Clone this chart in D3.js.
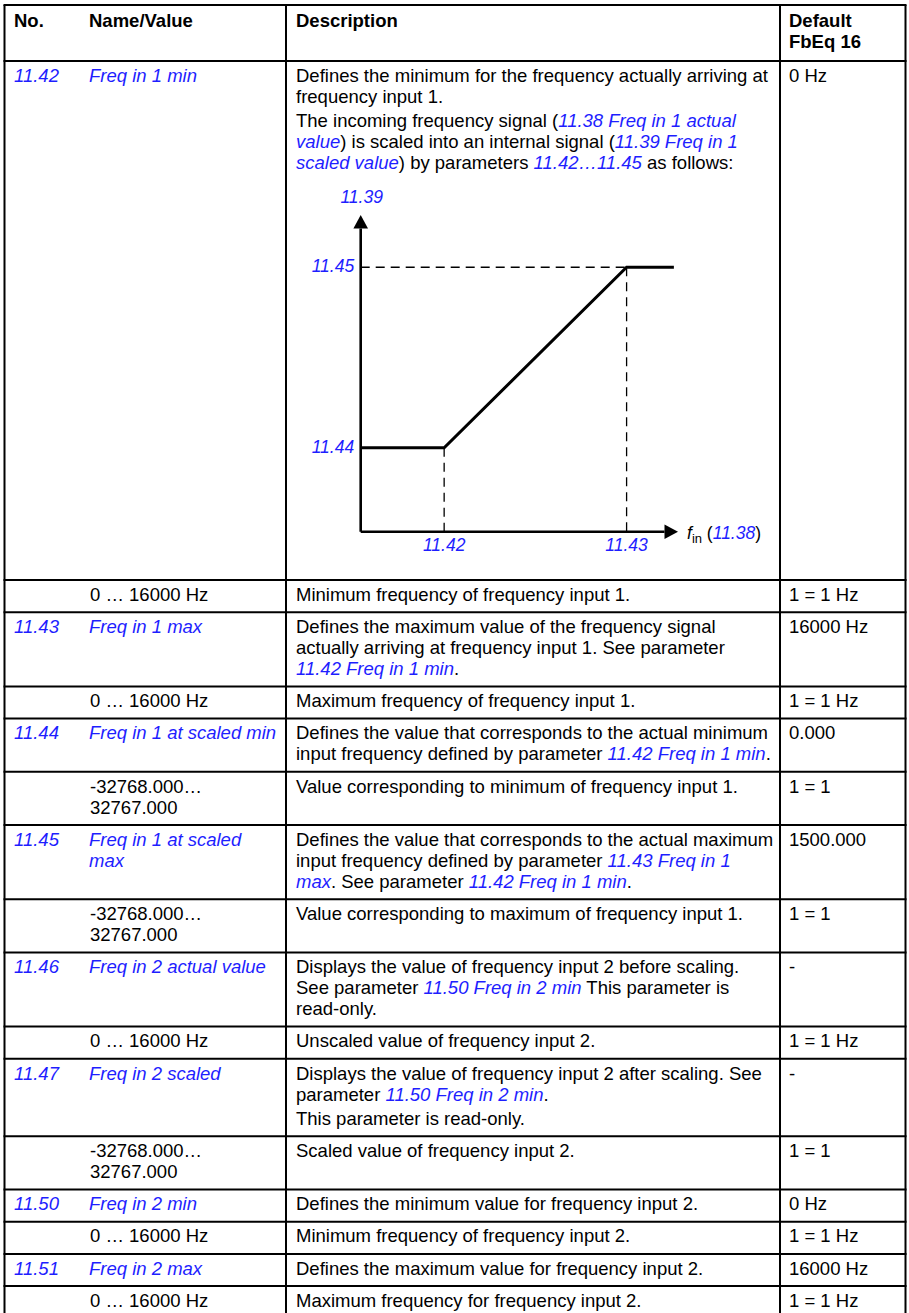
<!DOCTYPE html>
<html>
<head>
<meta charset="utf-8">
<script src="https://cdn.jsdelivr.net/npm/d3@7"></script>
<style>
  html, body { margin: 0; padding: 0; background: #fff; }
  svg text { white-space: pre; }
</style>
</head>
<body>
<div id="chart"></div>
<script>
// ---------------- data ----------------
const headerCols = ["No.", "Name/Value", "Description"];
const headerDefault = ["Default", "FbEq 16"];

const rowNos = ["11.42", "", "11.43", "", "11.44", "", "11.45", "", "11.46", "", "11.47", "", "11.50", "", "11.51", ""];
const rowNames = [
  ["Freq in 1 min"],
  ["0 … 16000 Hz"],
  ["Freq in 1 max"],
  ["0 … 16000 Hz"],
  ["Freq in 1 at scaled min"],
  ["-32768.000…", "32767.000"],
  ["Freq in 1 at scaled", "max"],
  ["-32768.000…", "32767.000"],
  ["Freq in 2 actual value"],
  ["0 … 16000 Hz"],
  ["Freq in 2 scaled"],
  ["-32768.000…", "32767.000"],
  ["Freq in 2 min"],
  ["0 … 16000 Hz"],
  ["Freq in 2 max"],
  ["0 … 16000 Hz"]
];
// {...} = blue italic reference, leading ^ = new paragraph
const rowDescs = [
  ["Defines the minimum for the frequency actually arriving at",
   "frequency input 1.",
   "^The incoming frequency signal ({11.38 Freq in 1 actual}",
   "{value}) is scaled into an internal signal ({11.39 Freq in 1}",
   "{scaled value}) by parameters {11.42…11.45} as follows:"],
  ["Minimum frequency of frequency input 1."],
  ["Defines the maximum value of the frequency signal",
   "actually arriving at frequency input 1. See parameter",
   "{11.42 Freq in 1 min}."],
  ["Maximum frequency of frequency input 1."],
  ["Defines the value that corresponds to the actual minimum",
   "input frequency defined by parameter {11.42 Freq in 1 min}."],
  ["Value corresponding to minimum of frequency input 1."],
  ["Defines the value that corresponds to the actual maximum",
   "input frequency defined by parameter {11.43 Freq in 1}",
   "{max}. See parameter {11.42 Freq in 1 min}."],
  ["Value corresponding to maximum of frequency input 1."],
  ["Displays the value of frequency input 2 before scaling.",
   "See parameter {11.50 Freq in 2 min} This parameter is",
   "read-only."],
  ["Unscaled value of frequency input 2."],
  ["Displays the value of frequency input 2 after scaling. See",
   "parameter {11.50 Freq in 2 min}.",
   "^This parameter is read-only."],
  ["Scaled value of frequency input 2."],
  ["Defines the minimum value for frequency input 2."],
  ["Minimum frequency of frequency input 2."],
  ["Defines the maximum value for frequency input 2."],
  ["Maximum frequency for frequency input 2."]
];
const rowDefaults = ["0 Hz", "1 = 1 Hz", "16000 Hz", "1 = 1 Hz", "0.000", "1 = 1", "1500.000", "1 = 1",
                     "-", "1 = 1 Hz", "-", "1 = 1", "0 Hz", "1 = 1 Hz", "16000 Hz", "1 = 1 Hz"];

// diagram (relative units 0..100 on both axes)
const curveIn  = [0, 26.3, 83.8, 98.7];
const curveOut = [26.5, 26.5, 83.5, 83.5];
const xTickValues = [26.3, 83.8];
const xTickLabels = ["11.42", "11.43"];
const yTickValues = [26.5, 83.5];
const yTickLabels = ["11.44", "11.45"];
const yAxisTitle = "11.39";
const xAxisRef = "11.38";

// ---------------- layout ----------------
const W = 909, H = 1313;
const BLUE = "#1e1eff";
const FONT = "'Liberation Sans', Arial, Helvetica, sans-serif";
const FS = 18.5;
const xL = 4.5, xNameDesc = 286, xDescDef = 780, xR = 905.5;
const tableTop = 5, headerBottom = 61;
const xNo = 14, xName = 89, xVal = 90, xDesc = 296, xDef = 789;
const firstBase = 20.7, pitch = 21, paraGap = 3.3, bottomPad = 11.5;
const diagramRowH = 519;

const svg = d3.select("#chart").append("svg")
  .attr("width", W).attr("height", H)
  .attr("viewBox", `0 0 ${W} ${H}`)
  .style("font-family", FONT);

svg.append("rect").attr("width", W).attr("height", H).attr("fill", "#fff");

function richLine(g, x, y, str, opts = {}) {
  const t = g.append("text")
    .attr("x", x).attr("y", y)
    .attr("font-size", opts.size || FS)
    .attr("fill", "#000");
  if (opts.bold) t.attr("font-weight", "bold");
  if (opts.allBlue) {
    t.append("tspan").attr("fill", BLUE).attr("font-style", "italic").text(str);
    return t;
  }
  str.split(/(\{[^}]*\})/).filter(s => s.length).forEach(seg => {
    if (seg[0] === "{") {
      t.append("tspan").attr("fill", BLUE).attr("font-style", "italic").text(seg.slice(1, -1));
    } else {
      t.append("tspan").text(seg);
    }
  });
  return t;
}

function layoutLines(lines, top) {
  let y = top + firstBase;
  return lines.map((ln, i) => {
    let s = ln;
    if (i > 0) {
      y += pitch;
      if (s[0] === "^") y += paraGap;
    }
    if (s[0] === "^") s = s.slice(1);
    return { text: s, y };
  });
}

const g = svg.append("g");

// header
headerCols.forEach((h, i) => {
  const x = [xNo, xName, xDesc][i];
  richLine(g, x, tableTop + firstBase + 1, h, { bold: true });
});
headerDefault.forEach((h, i) => richLine(g, xDef, tableTop + firstBase + 1 + i * pitch, h, { bold: true }));

// rows
let rowTop = headerBottom;
const hLines = [tableTop, headerBottom];
rowNos.forEach((no, i) => {
  const descL = layoutLines(rowDescs[i], rowTop);
  const nameL = layoutLines(rowNames[i], rowTop);
  const isParam = no !== "";
  if (isParam) richLine(g, xNo, rowTop + firstBase, no, { allBlue: true });
  nameL.forEach(l => richLine(g, isParam ? xName : xVal, l.y, l.text, { allBlue: isParam }));
  descL.forEach(l => richLine(g, xDesc, l.y, l.text));
  richLine(g, xDef, rowTop + firstBase, rowDefaults[i]);
  const lastY = Math.max(descL[descL.length - 1].y, nameL[nameL.length - 1].y);
  const h = i === 0 ? diagramRowH : (lastY - rowTop) + bottomPad;
  rowTop += h;
  hLines.push(rowTop);
});
const tableBottom = rowTop;

// grid lines
const grid = svg.append("g").attr("stroke", "#000").attr("stroke-width", 2);
hLines.forEach(y => grid.append("line").attr("x1", xL - 1).attr("x2", xR + 1).attr("y1", y).attr("y2", y));
[xL, xNameDesc, xDescDef, xR].forEach(x =>
  grid.append("line").attr("x1", x).attr("x2", x).attr("y1", tableTop).attr("y2", tableBottom));

// ---------------- diagram ----------------
const dx = d3.scaleLinear().domain([0, 100]).range([360.7, 678]);
const dy = d3.scaleLinear().domain([0, 100]).range([531.7, 215]);
const dg = svg.append("g");
const arrowLen = 13.5, arrowHalf = 7.3;

// dashed guides
const dash = dg.append("g").attr("stroke", "#000").attr("stroke-width", 1.3)
  .attr("stroke-dasharray", "9,6").attr("fill", "none");
dash.append("line").attr("x1", dx(0)).attr("x2", dx(curveIn[2])).attr("y1", dy(curveOut[2])).attr("y2", dy(curveOut[2]));
dash.append("line").attr("x1", dx(curveIn[1])).attr("x2", dx(curveIn[1])).attr("y1", dy(curveOut[1])).attr("y2", dy(0));
dash.append("line").attr("x1", dx(curveIn[2])).attr("x2", dx(curveIn[2])).attr("y1", dy(curveOut[2])).attr("y2", dy(0));

// axes
dg.append("line").attr("x1", dx(0)).attr("x2", dx(0)).attr("y1", dy(0)).attr("y2", dy(100) + arrowLen)
  .attr("stroke", "#000").attr("stroke-width", 2.6);
dg.append("line").attr("x1", dx(0)).attr("x2", dx(100) - arrowLen).attr("y1", dy(0)).attr("y2", dy(0))
  .attr("stroke", "#000").attr("stroke-width", 2.6);
dg.append("path").attr("fill", "#000")
  .attr("d", `M${dx(0)},${dy(100)} L${dx(0) - arrowHalf},${dy(100) + arrowLen} L${dx(0) + arrowHalf},${dy(100) + arrowLen} Z`);
dg.append("path").attr("fill", "#000")
  .attr("d", `M${dx(100)},${dy(0)} L${dx(100) - arrowLen},${dy(0) - arrowHalf} L${dx(100) - arrowLen},${dy(0) + arrowHalf} Z`);

// curve
const line = d3.line().x((d, i) => dx(curveIn[i])).y(d => dy(d));
dg.append("path").datum(curveOut).attr("d", line)
  .attr("fill", "none").attr("stroke", "#000").attr("stroke-width", 3).attr("stroke-linejoin", "miter");

// labels
const DFS = 17.5;
dg.selectAll("text.xt").data(xTickValues).join("text").attr("class", "xt")
  .attr("x", d => dx(d)).attr("y", dy(0) + 19.5).attr("text-anchor", "middle")
  .attr("font-size", DFS).attr("font-style", "italic").attr("fill", BLUE)
  .text((d, i) => xTickLabels[i]);
dg.selectAll("text.yt").data(yTickValues).join("text").attr("class", "yt")
  .attr("x", dx(0) - 6.5).attr("y", d => dy(d) + 5).attr("text-anchor", "end")
  .attr("font-size", DFS).attr("font-style", "italic").attr("fill", BLUE)
  .text((d, i) => yTickLabels[i]);
dg.append("text").attr("x", dx(0) + 1).attr("y", 203).attr("text-anchor", "middle")
  .attr("font-size", DFS).attr("font-style", "italic").attr("fill", BLUE).text(yAxisTitle);

const xt = dg.append("text").attr("x", dx(100) + 9).attr("y", dy(0) + 7).attr("font-size", DFS).attr("fill", "#000");
xt.append("tspan").attr("font-style", "italic").text("f");
xt.append("tspan").attr("font-size", 13).attr("dy", 4).text("in");
xt.append("tspan").attr("dy", -4).text(" (");
xt.append("tspan").attr("fill", BLUE).attr("font-style", "italic").text(xAxisRef);
xt.append("tspan").text(")");
</script>
</body>
</html>
